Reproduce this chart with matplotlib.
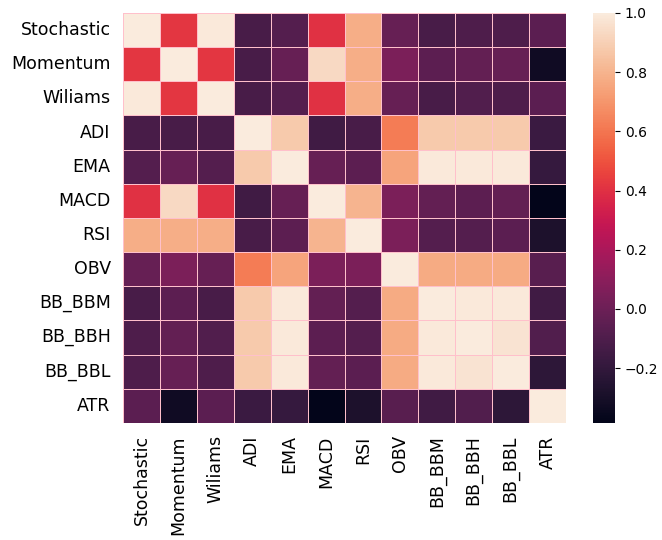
import numpy as np
import pandas as pd
import matplotlib
matplotlib.use("Agg")
import matplotlib.pyplot as plt
import seaborn as sns

indicators = ["Stochastic", "Momentum", "Wiliams", "ADI", "EMA", "MACD",
              "RSI", "OBV", "BB_BBM", "BB_BBH", "BB_BBL", "ATR"]

# lower triangle of the correlation matrix, row by row
lower = [
    [1.00],
    [0.42, 1.00],
    [0.99, 0.42, 1.00],
    [-0.12, -0.12, -0.12, 1.00],
    [-0.08, -0.02, -0.08, 0.88, 1.00],
    [0.40, 0.93, 0.40, -0.15, -0.02, 1.00],
    [0.78, 0.78, 0.78, -0.12, -0.05, 0.80, 1.00],
    [-0.02, 0.05, -0.02, 0.62, 0.75, 0.05, 0.05, 1.00],
    [-0.12, -0.05, -0.12, 0.88, 0.99, -0.03, -0.08, 0.77, 1.00],
    [-0.10, -0.03, -0.09, 0.88, 0.99, -0.05, -0.08, 0.77, 0.99, 1.00],
    [-0.10, -0.02, -0.10, 0.88, 0.99, -0.03, -0.06, 0.77, 0.99, 0.97, 1.00],
    [-0.06, -0.33, -0.06, -0.17, -0.19, -0.385, -0.28, -0.07, -0.15, -0.09, -0.22, 1.00],
]

n = len(indicators)
corr = np.zeros((n, n))
for i, row in enumerate(lower):
    for j, v in enumerate(row):
        corr[i, j] = v
        corr[j, i] = v
df = pd.DataFrame(corr, index=indicators, columns=indicators)

fig = plt.figure(figsize=(6.62, 5.40), dpi=100)
ax = fig.add_axes([0.186, 0.217, 0.669, 0.759])
cax = fig.add_axes([0.896, 0.217, 0.033, 0.759])

sns.heatmap(df, ax=ax, cbar_ax=cax, linewidths=0.6, linecolor="pink")

ax.tick_params(length=0, labelsize=12.5, pad=9)
cax.tick_params(labelsize=10)

fig.savefig("out.png", dpi=100)
